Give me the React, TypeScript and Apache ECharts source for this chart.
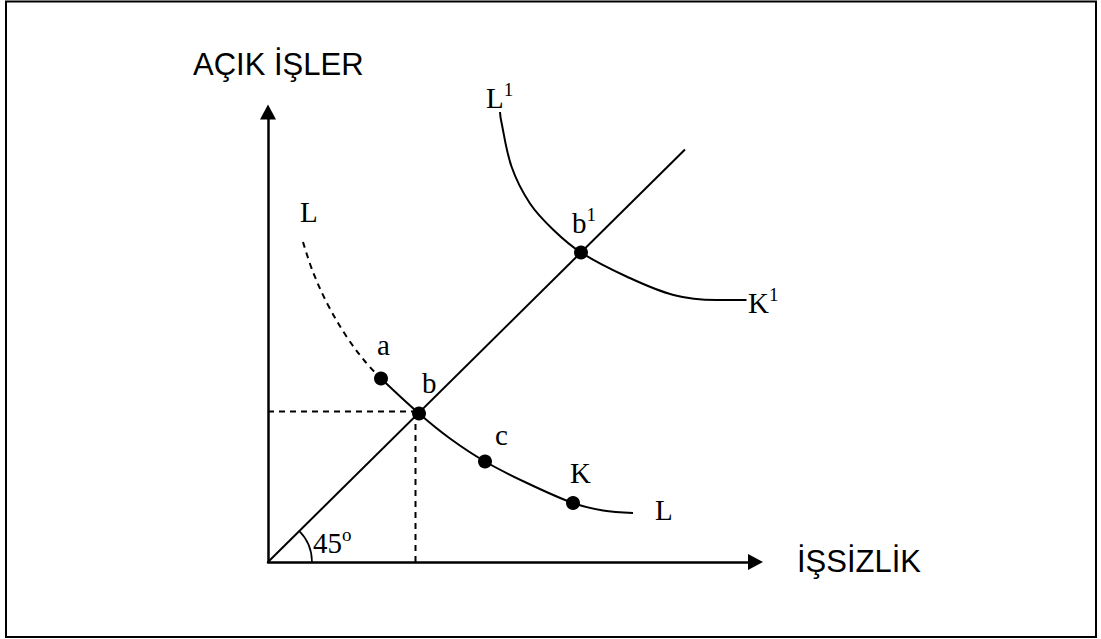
import React, { useEffect, useRef } from "react";
import * as echarts from "echarts";

// Coordinates in chart units (origin at the axes' crossing)
const diagonal45 = [[0, 0], [83.4, 82.5]];
const curveLDashed = [[7, 64], [9, 58], [12, 51.4], [15.7, 45.1], [19.5, 40], [22.6, 36.7]];
const curveLSolid = [[22.6, 36.7], [30.2, 29.7], [36.4, 24.7], [43.4, 20.1], [51.8, 15.8], [61, 11.8], [67, 10.3], [73, 9.8]];
const curveL1 = [[46.4, 90], [46.6, 88.4], [48.7, 79.1], [52.4, 71.7], [57.1, 66.4], [62.6, 61.9], [71.7, 57.1], [81.1, 53.4], [89.7, 52.4], [95.7, 52.4]];
const guideHorizontal = [[0, 30.1], [30.2, 30.1]];
const guideVertical = [[29.5, 0], [29.5, 29.7]];
const pointNames = ["a", "b", "c", "K", "b1"];
const pointValues = [[22.6, 36.7], [30.2, 29.7], [43.4, 20.1], [61, 11.8], [62.6, 61.9]];
const labelTexts = ["L", "a", "b", "c", "K", "L", "L", "b", "K", "45"];
const labelSups = ["", "", "", "", "", "", "1", "1", "1", "o"];
const labelAnchors = [[6.4, 70], [21.8, 43.4], [30.8, 35.8], [45.4, 25.4], [60.4, 17.8], [77.4, 10.4], [43.6, 92.8], [60.8, 67.8], [96, 51.8], [9, 3.8]];
const angleArc = [[0, 0, 8.8]];
const yAxisTitle = "AÇIK İŞLER";
const xAxisTitle = "İŞSİZLİK";

const SERIF = "'Liberation Serif', 'Times New Roman', serif";
const SANS = "'Liberation Sans', Arial, sans-serif";

export default function App() {
  const ref = useRef<HTMLDivElement>(null);
  useEffect(() => {
    if (!ref.current) return;
    const chart = echarts.init(ref.current, null, { renderer: "svg" });
    const lineBase = {
      type: "line",
      showSymbol: false,
      symbol: "none",
      clip: false,
      silent: true,
    };
    const option: any = {
      animation: false,
      backgroundColor: "#fff",
      grid: { left: 268, top: 112, width: 487.5, height: 450 },
      xAxis: {
        type: "value",
        min: 0,
        max: 97.5,
        axisLine: {
          show: true,
          symbol: ["none", "triangle"],
          symbolSize: [16, 15],
          lineStyle: { color: "#000", width: 2.5 },
        },
        axisTick: { show: false },
        axisLabel: { show: false },
        splitLine: { show: false },
      },
      yAxis: {
        type: "value",
        min: 0,
        max: 90,
        axisLine: {
          show: true,
          symbol: ["none", "triangle"],
          symbolSize: [16, 15],
          lineStyle: { color: "#000", width: 2.5 },
        },
        axisTick: { show: false },
        axisLabel: { show: false },
        splitLine: { show: false },
      },
      graphic: [
        {
          type: "rect",
          shape: { x: 6, y: 1.5, width: 1090, height: 635.5 },
          style: { fill: "none", stroke: "#000", lineWidth: 2 },
          z: 0,
        },
        {
          type: "text",
          x: 193,
          y: 64,
          style: { text: yAxisTitle, font: `31px ${SANS}`, fill: "#000", verticalAlign: "middle", align: "left" },
        },
        {
          type: "text",
          x: 797,
          y: 561,
          style: { text: xAxisTitle, font: `31px ${SANS}`, fill: "#000", verticalAlign: "middle", align: "left" },
        },
      ],
      series: [
        { ...lineBase, name: "45", data: diagonal45, lineStyle: { color: "#000", width: 2 } },
        { ...lineBase, name: "Ldash", data: curveLDashed, smooth: 0.35, lineStyle: { color: "#000", width: 2, type: [6, 5] } },
        { ...lineBase, name: "L", data: curveLSolid, smooth: 0.35, lineStyle: { color: "#000", width: 2 } },
        { ...lineBase, name: "L1", data: curveL1, smooth: 0.35, lineStyle: { color: "#000", width: 2 } },
        { ...lineBase, name: "gh", data: guideHorizontal, lineStyle: { color: "#000", width: 2, type: [6, 5] } },
        { ...lineBase, name: "gv", data: guideVertical, lineStyle: { color: "#000", width: 2, type: [6, 5] } },
        {
          type: "custom",
          name: "arc",
          silent: true,
          clip: false,
          data: angleArc,
          renderItem: (params: any, api: any) => {
            const c = api.coord([api.value(0), api.value(1)]);
            const r = api.size([api.value(2), 0])[0];
            return {
              type: "arc",
              shape: { cx: c[0], cy: c[1], r, startAngle: -Math.PI / 4, endAngle: 0, clockwise: true },
              style: { stroke: "#000", fill: "none", lineWidth: 1.6 },
            };
          },
        },
        {
          type: "scatter",
          name: "points",
          silent: true,
          clip: false,
          symbolSize: 14,
          itemStyle: { color: "#000", opacity: 1 },
          z: 5,
          data: pointNames.map((n, i) => ({ name: n, value: pointValues[i] })),
        },
        {
          type: "scatter",
          name: "labels",
          silent: true,
          clip: false,
          symbolSize: 0,
          itemStyle: { color: "#000", opacity: 1 },
          z: 6,
          data: labelTexts.map((t, i) => ({ name: t, value: labelAnchors[i] })),
          label: {
            show: true,
            position: [0, 0],
            align: "left",
            verticalAlign: "middle",
            color: "#000",
            opacity: 1,
            formatter: (p: any) => {
              const s = labelSups[p.dataIndex];
              return s ? `{m|${labelTexts[p.dataIndex]}}{s|${s}}` : `{m|${labelTexts[p.dataIndex]}}`;
            },
            rich: {
              m: { fontFamily: SERIF, fontSize: 29, lineHeight: 36, color: "#000" },
              s: { fontFamily: SERIF, fontSize: 19, lineHeight: 19, color: "#000", verticalAlign: "top" },
            },
          },
        },
      ],
    };
    chart.setOption(option);
    return () => chart.dispose();
  }, []);
  return (
    <div
      ref={ref}
      style={{ position: "absolute", left: 0, top: 0, width: 1101, height: 639, background: "#fff" }}
    />
  );
}
